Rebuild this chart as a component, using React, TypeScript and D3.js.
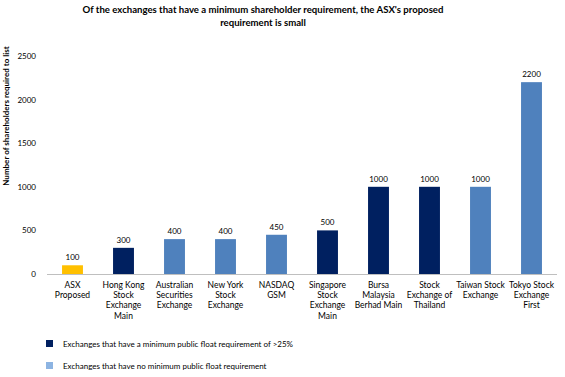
import React from "react";
import * as d3 from "d3";

const categories: string[][] = [
  ["ASX", "Proposed"],
  ["Hong Kong", "Stock", "Exchange", "Main"],
  ["Australian", "Securities", "Exchange"],
  ["New York", "Stock", "Exchange"],
  ["NASDAQ", "GSM"],
  ["Singapore", "Stock", "Exchange", "Main"],
  ["Bursa", "Malaysia", "Berhad Main"],
  ["Stock", "Exchange of", "Thailand"],
  ["Taiwan Stock", "Exchange"],
  ["Tokyo Stock", "Exchange", "First"],
];
const values: number[] = [100, 300, 400, 400, 450, 500, 1000, 1000, 1000, 2200];
const groups: string[] = ["asx", "float", "none", "none", "none", "float", "float", "float", "none", "none"];
const yTicks: number[] = [0, 500, 1000, 1500, 2000, 2500];
const legendLabels: string[] = [
  "Exchanges that have a minimum public float requirement of >25%",
  "Exchanges that have no minimum public float requirement",
];

const colors: Record<string, string> = {
  asx: "#FFC000",
  float: "#002060",
  none: "#4F81BD",
};
const legendColors = ["#002060", "#8DB4E2"];

const W = 565;
const H = 377;
const FONT = "Lato, 'Open Sans', sans-serif";

export default function App() {
  const x = d3
    .scaleBand<number>()
    .domain(values.map((_, i) => i))
    .range([47, 557])
    .paddingInner(0.59)
    .paddingOuter(0.295);
  const y = d3.scaleLinear().domain([0, 2500]).range([274, 56]);

  return (
    <svg
      width={W}
      height={H}
      style={{ position: "absolute", left: 0, top: 0, background: "#fff" }}
      fontFamily={FONT}
    >
      <text x={263} y={13} textAnchor="middle" fontSize={9.6} fontWeight={700} fill="#000">
        Of the exchanges that have a minimum shareholder requirement, the ASX's proposed
      </text>
      <text x={263} y={26} textAnchor="middle" fontSize={9.6} fontWeight={700} fill="#000">
        requirement is small
      </text>

      <text
        transform={`translate(9,${116}) rotate(-90)`}
        textAnchor="middle"
        fontSize={8}
        fontWeight={700}
        fill="#000"
      >
        Number of shareholders required to list
      </text>

      {yTicks.map((t) => (
        <text key={t} x={36} y={y(t) + 3} textAnchor="end" fontSize={8} fill="#000">
          {t}
        </text>
      ))}

      <line x1={47} x2={557} y1={y(0) + 0.5} y2={y(0) + 0.5} stroke="#BFBFBF" strokeWidth={1} />

      {values.map((v, i) => {
        const bx = x(i)!;
        const bw = x.bandwidth();
        const cx = bx + bw / 2;
        return (
          <g key={i}>
            <rect x={bx} y={y(v)} width={bw} height={y(0) - y(v)} fill={colors[groups[i]]} />
            <text x={cx} y={y(v) - 5} textAnchor="middle" fontSize={8} fill="#000">
              {v}
            </text>
            {categories[i].map((line, j) => (
              <text key={j} x={cx} y={288 + j * 10.2} textAnchor="middle" fontSize={8.5} fill="#000">
                {line}
              </text>
            ))}
          </g>
        );
      })}

      {legendLabels.map((l, i) => (
        <g key={i}>
          <rect x={46} y={340 + i * 22} width={7} height={7} fill={legendColors[i]} />
          <text x={63} y={347 + i * 22} fontSize={8} fill="#000">
            {l}
          </text>
        </g>
      ))}
    </svg>
  );
}
